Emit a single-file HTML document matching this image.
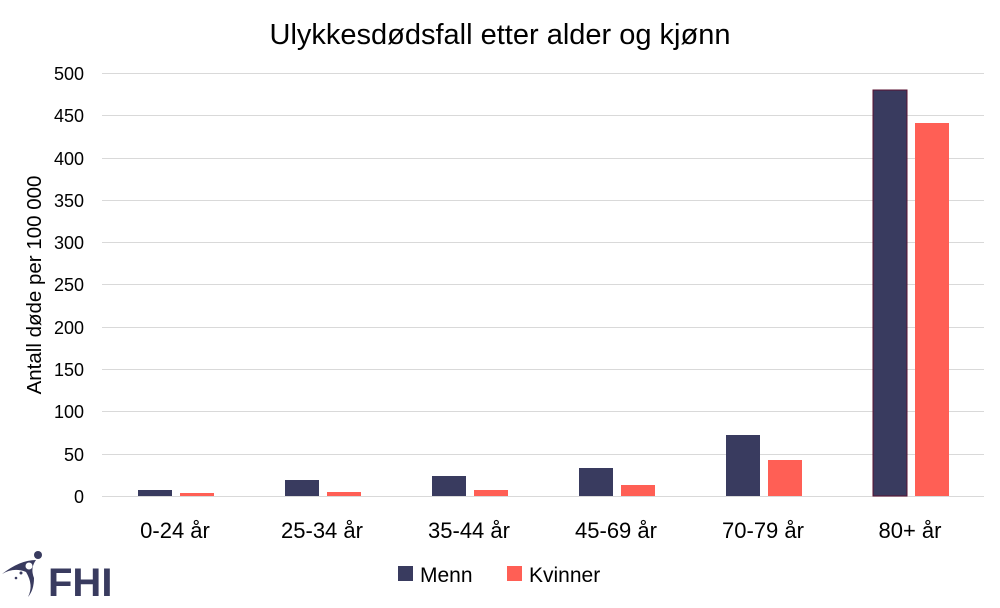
<!DOCTYPE html><html><head><style>body{margin:0;background:#fff}</style></head><body>
<svg width="1000" height="603" xmlns="http://www.w3.org/2000/svg" font-family="Liberation Sans, sans-serif">
<rect width="1000" height="603" fill="#fff"/>
<text x="500" y="44" font-size="29" text-anchor="middle" fill="#000">Ulykkesdødsfall etter alder og kjønn</text>
<g stroke="#d9d9d9" stroke-width="1">
<line x1="102" x2="984" y1="73.5" y2="73.5"/><line x1="102" x2="984" y1="115.5" y2="115.5"/><line x1="102" x2="984" y1="158.5" y2="158.5"/><line x1="102" x2="984" y1="200.5" y2="200.5"/><line x1="102" x2="984" y1="242.5" y2="242.5"/><line x1="102" x2="984" y1="284.5" y2="284.5"/><line x1="102" x2="984" y1="327.5" y2="327.5"/><line x1="102" x2="984" y1="369.5" y2="369.5"/><line x1="102" x2="984" y1="411.5" y2="411.5"/><line x1="102" x2="984" y1="454.5" y2="454.5"/><line x1="102" x2="984" y1="496.5" y2="496.5"/>
</g>
<g font-size="18" text-anchor="end" fill="#000">
<text x="84" y="80">500</text><text x="84" y="122">450</text><text x="84" y="165">400</text><text x="84" y="207">350</text><text x="84" y="249">300</text><text x="84" y="291">250</text><text x="84" y="334">200</text><text x="84" y="376">150</text><text x="84" y="418">100</text><text x="84" y="461">50</text><text x="84" y="503">0</text>
</g>
<text transform="translate(41,285) rotate(-90)" font-size="20.5" text-anchor="middle">Antall døde per 100 000</text>
<g fill="#393b5f">
<rect x="138" y="490" width="34" height="6"/><rect x="285" y="480" width="34" height="16"/><rect x="432" y="476" width="34" height="20"/><rect x="579" y="468" width="34" height="28"/><rect x="726" y="435" width="34" height="61"/><rect x="873" y="90" width="34" height="406" stroke="#5a1030" stroke-width="1"/>
</g>
<g fill="#ff5f55">
<rect x="180" y="493" width="34" height="3"/><rect x="327" y="492" width="34" height="4"/><rect x="474" y="490" width="34" height="6"/><rect x="621" y="485" width="34" height="11"/><rect x="768" y="460" width="34" height="36"/><rect x="915" y="123" width="34" height="373"/>
</g>
<g font-size="22" text-anchor="middle">
<text x="175" y="538">0-24 år</text><text x="322" y="538">25-34 år</text><text x="469" y="538">35-44 år</text><text x="616" y="538">45-69 år</text><text x="763" y="538">70-79 år</text><text x="910" y="538">80+ år</text>
</g>
<rect x="398" y="566" width="15" height="15" fill="#393b5f"/><text x="420" y="582" font-size="21">Menn</text>
<rect x="507" y="566" width="15" height="15" fill="#ff5f55"/><text x="529" y="582" font-size="21">Kvinner</text>
<g fill="#393b5f">
<path d="M2 574 Q20 560 36 560 Q30 568 34 578 Q34 590 28 597 Q34 585 26 572 Q14 567 2 574Z"/>
<circle cx="38" cy="555" r="4"/><circle cx="29" cy="566" r="3.5" fill="#fff"/>
<circle cx="21" cy="573" r="1.5"/><circle cx="16" cy="578" r="1.3"/>
<text x="48" y="596" font-size="40" font-weight="bold">FHI</text>
</g>
</svg></body></html>
